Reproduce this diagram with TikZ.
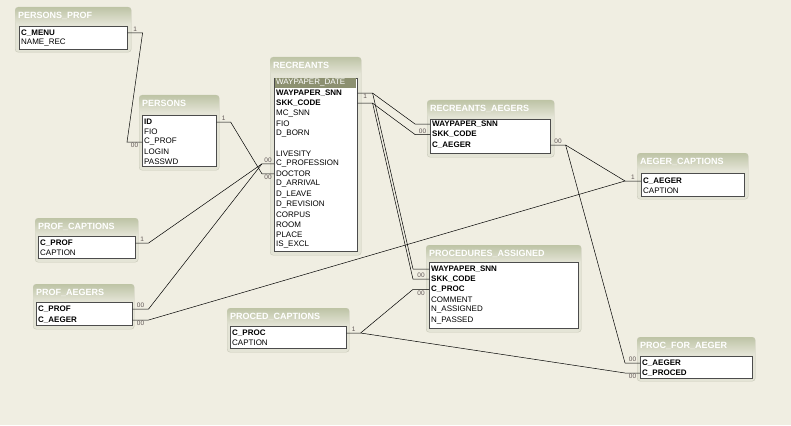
\documentclass[tikz,border=0pt]{standalone}
\usepackage{fontspec}
\setmainfont{Liberation Sans}
\usepackage{tikz}
\usetikzlibrary{positioning, calc}
\definecolor{canvas}{RGB}{240,238,226}
\definecolor{paneltop}{RGB}{190,196,166}
\definecolor{panelbot}{RGB}{228,228,214}
\definecolor{paneledge}{RGB}{200,200,184}
\definecolor{selrow}{RGB}{140,144,112}
\definecolor{cardgray}{RGB}{95,85,85}
\tikzstyle{conn} = [draw=black, line width=0.5pt]

\begin{document}
\begin{tikzpicture}[
        x=1pt, y=-1pt,
        panel/.style={anchor=north west, draw=paneledge, fill=panelbot, rounded corners=3pt, inner sep=0pt},
        title/.style={anchor=north, inner sep=3pt, minimum height=17, top color=paneltop, bottom color=panelbot, rounded corners=3pt, text=white, font=\bfseries\fontsize{9}{10}\selectfont, align=left},
        listbox/.style={anchor=north west, draw=gray!60!black, line width=0.6pt, fill=white, inner sep=0pt},
        field/.style={anchor=west, inner sep=0pt, font=\fontsize{8}{9}\selectfont},
        selected/.style={fill=selrow, text=white, text width=79, align=left, minimum height=9.5, inner xsep=1pt},
        card/.style={font=\fontsize{6.5}{6.5}\selectfont, text=cardgray, inner sep=1pt}
    ]
        \fill[canvas] (0,0) rectangle (791,425);
        \useasboundingbox (0,0) rectangle (791,425);

        % Define the tables
        \node (persprof) [panel, minimum width=116, minimum height=45] at (15,7) {};
        \node (persprof-title) [title, text width=110] at (persprof.north) {PERSONS\_PROF};
        \node (persprof-box) [listbox, minimum width=108, minimum height=23] at (19,26) {};
        \foreach \n/\t [count=\i from 0] in {menu/\bfseries C\_MENU, rec/NAME\_REC}
            \node (persprof-\n) [field] at (21,33+10*\i) {\t};

        \node (persons) [panel, minimum width=80, minimum height=75] at (139,95) {};
        \node (persons-title) [title, text width=74] at (persons.north) {PERSONS};
        \node (persons-box) [listbox, minimum width=74, minimum height=51] at (142,115) {};
        \foreach \n/\t [count=\i from 0] in {id/\bfseries ID, fio/FIO, cprof/C\_PROF, login/LOGIN, passwd/PASSWD}
            \node (persons-\n) [field] at (144,122+10*\i) {\t};

        \node (recreants) [panel, minimum width=91, minimum height=198] at (270,57) {};
        \node (recreants-title) [title, text width=85] at (recreants.north) {RECREANTS};
        \node (recreants-box) [listbox, minimum width=83, minimum height=173] at (274,78) {};
        \node (recreants-date) [field, selected] at (275,83) {WAYPAPER\_DATE};
        \foreach \n/\t/\k in {snn/\bfseries WAYPAPER\_SNN/1, skk/\bfseries SKK\_CODE/2, mcsnn/MC\_SNN/3,
                fio/FIO/4, dborn/D\_BORN/5, livesity/LIVESITY/7, cprof/C\_PROFESSION/8, doctor/DOCTOR/9,
                darrival/D\_ARRIVAL/10, dleave/D\_LEAVE/11, drevision/D\_REVISION/12, corpus/CORPUS/13,
                room/ROOM/14, place/PLACE/15, excl/IS\_EXCL/16}
            \node (recreants-\n) [field] at (276,83+10.1*\k) {\t};

        \node (recaegers) [panel, minimum width=127, minimum height=57] at (427,100) {};
        \node (recaegers-title) [title, text width=121] at (recaegers.north) {RECREANTS\_AEGERS};
        \node (recaegers-box) [listbox, minimum width=120, minimum height=34] at (430,119) {};
        \foreach \n/\t [count=\i from 0] in {snn/WAYPAPER\_SNN, skk/SKK\_CODE, caeger/C\_AEGER}
            \node (recaegers-\n) [field, font=\bfseries\fontsize{8}{9}\selectfont] at (432,124+10.5*\i) {\t};

        \node (procassigned) [panel, minimum width=155, minimum height=87] at (426,245) {};
        \node (procassigned-title) [title, text width=149] at (procassigned.north) {PROCEDURES\_ASSIGNED};
        \node (procassigned-box) [listbox, minimum width=149, minimum height=66] at (429,262) {};
        \foreach \n/\t [count=\i from 0] in {snn/\bfseries WAYPAPER\_SNN, skk/\bfseries SKK\_CODE, cproc/\bfseries C\_PROC,
                comment/COMMENT, nassigned/N\_ASSIGNED, npassed/N\_PASSED}
            \node (procassigned-\n) [field] at (431,269+10.2*\i) {\t};

        \node (aegercapt) [panel, minimum width=111, minimum height=46] at (637,153) {};
        \node (aegercapt-title) [title, text width=105] at (aegercapt.north) {AEGER\_CAPTIONS};
        \node (aegercapt-box) [listbox, minimum width=103, minimum height=23] at (641,173) {};
        \foreach \n/\t [count=\i from 0] in {caeger/\bfseries C\_AEGER, caption/CAPTION}
            \node (aegercapt-\n) [field] at (643,181+10*\i) {\t};

        \node (profcapt) [panel, minimum width=103, minimum height=44] at (35,218) {};
        \node (profcapt-title) [title, text width=97] at (profcapt.north) {PROF\_CAPTIONS};
        \node (profcapt-box) [listbox, minimum width=97, minimum height=22] at (38,236) {};
        \foreach \n/\t [count=\i from 0] in {cprof/\bfseries C\_PROF, caption/CAPTION}
            \node (profcapt-\n) [field] at (40,243+10*\i) {\t};

        \node (profaegers) [panel, minimum width=101, minimum height=45] at (33,284) {};
        \node (profaegers-title) [title, text width=95] at (profaegers.north) {PROF\_AEGERS};
        \node (profaegers-box) [listbox, minimum width=96, minimum height=23] at (36,302) {};
        \foreach \n/\t [count=\i from 0] in {cprof/C\_PROF, caeger/C\_AEGER}
            \node (profaegers-\n) [field, font=\bfseries\fontsize{8}{9}\selectfont] at (38,309+11*\i) {\t};

        \node (procedcapt) [panel, minimum width=122, minimum height=44] at (227,308) {};
        \node (procedcapt-title) [title, text width=116] at (procedcapt.north) {PROCED\_CAPTIONS};
        \node (procedcapt-box) [listbox, minimum width=116, minimum height=22] at (230,326) {};
        \foreach \n/\t [count=\i from 0] in {cproc/\bfseries C\_PROC, caption/CAPTION}
            \node (procedcapt-\n) [field] at (232,333+10*\i) {\t};

        \node (procforaeger) [panel, minimum width=118, minimum height=44] at (637,337) {};
        \node (procforaeger-title) [title, text width=112] at (procforaeger.north) {PROC\_FOR\_AEGER};
        \node (procforaeger-box) [listbox, minimum width=112, minimum height=22] at (640,356) {};
        \foreach \n/\t [count=\i from 0] in {caeger/C\_AEGER, cproced/C\_PROCED}
            \node (procforaeger-\n) [field, font=\bfseries\fontsize{8}{9}\selectfont] at (642,363+10*\i) {\t};

        % Add relations
        \draw[conn] (persprof-menu -| persprof-box.east) -- node[card, above] {1} ++(15,0)
            -- ($(persons-cprof -| persons-box.west)+(-15,0)$) -- node[card, below] {00} (persons-cprof -| persons-box.west);

        \draw[conn] (persons-id -| persons-box.east) -- node[card, above] {1} ++(14,0)
            -- ($(recreants-doctor -| recreants-box.west)+(-12,0)$) -- node[card, below] {00} (recreants-doctor -| recreants-box.west);

        \draw[conn] (profcapt-cprof -| profcapt-box.east) -- node[card, above] {1} ++(13,0)
            -- ($(recreants-cprof -| recreants-box.west)+(-12,0)$) coordinate (rec-cprof-stub)
            -- node[card, above] {00} (recreants-cprof -| recreants-box.west);
        \draw[conn] (profaegers-cprof -| profaegers-box.east) -- node[card, above] {00} ++(16,0) -- (rec-cprof-stub);

        \draw[conn] (recreants-snn -| recreants-box.east) -- node[card, below] {1} ++(15,0) coordinate (rec-snn-stub)
            -- ($(recaegers-snn -| recaegers-box.west)+(-15,0)$) -- (recaegers-snn -| recaegers-box.west);
        \draw[conn] (recreants-skk -| recreants-box.east) -- ++(15,0) coordinate (rec-skk-stub)
            -- ($(recaegers-skk -| recaegers-box.west)+(-15,0)$) -- node[card, above] {00} (recaegers-skk -| recaegers-box.west);
        \draw[conn] (rec-snn-stub) -- ($(procassigned-snn -| procassigned-box.west)+(-16,0)$) -- (procassigned-snn -| procassigned-box.west);
        \draw[conn] (rec-skk-stub) -- ($(procassigned-skk -| procassigned-box.west)+(-16,0)$)
            -- node[card, above] {00} (procassigned-skk -| procassigned-box.west);

        \draw[conn] (procedcapt-cproc -| procedcapt-box.east) -- node[card, above] {1} ++(14,0) coordinate (proced-stub)
            -- ($(procassigned-cproc -| procassigned-box.west)+(-16,0)$) -- node[card, below] {00} (procassigned-cproc -| procassigned-box.west);
        \draw[conn] (proced-stub) -- ($(procforaeger-cproced -| procforaeger-box.west)+(-15,0)$)
            -- node[card, below] {00} (procforaeger-cproced -| procforaeger-box.west);

        \draw[conn] (recaegers-caeger -| recaegers-box.east) -- node[card, above] {00} ++(15,0) coordinate (recaeg-stub)
            -- ($(aegercapt-caeger -| aegercapt-box.west)+(-16,0)$) coordinate (aeg-stub)
            -- node[card, above] {1} (aegercapt-caeger -| aegercapt-box.west);
        \draw[conn] (recaeg-stub) -- ($(procforaeger-caeger -| procforaeger-box.west)+(-15,0)$)
            -- node[card, above] {00} (procforaeger-caeger -| procforaeger-box.west);
        \draw[conn] (profaegers-caeger -| profaegers-box.east) -- node[card, below] {00} ++(16,0) -- (aeg-stub);

    \end{tikzpicture}
\end{document}
